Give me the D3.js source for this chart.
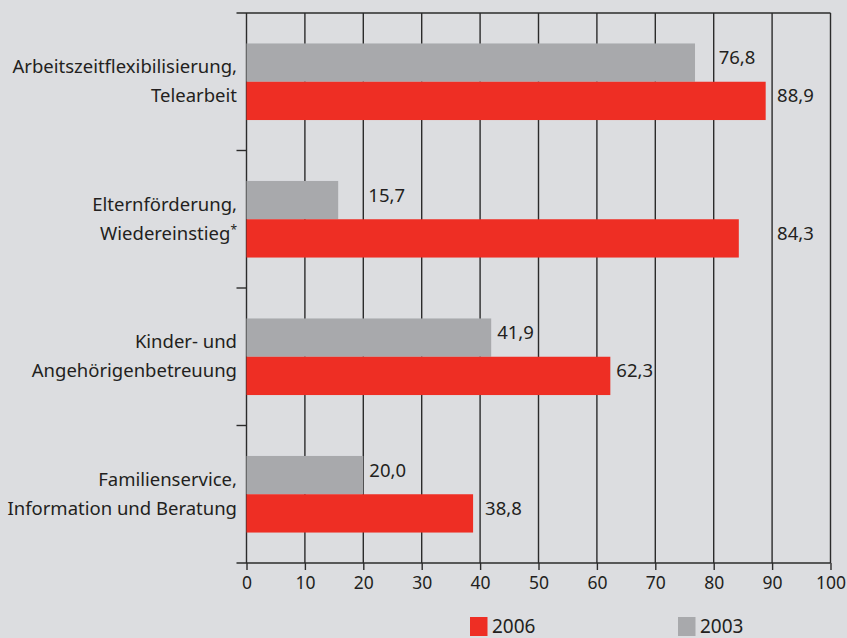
<!DOCTYPE html>
<html>
<head>
<meta charset="utf-8">
<script src="https://cdn.jsdelivr.net/npm/d3@7"></script>
<style>
  html, body { margin: 0; padding: 0; background: #dcdde0; }
  svg { display: block; }
  text { font-family: "Noto Sans", sans-serif; fill: #231f20; }
</style>
</head>
<body>
<svg id="chart" width="847" height="638"></svg>
<script>
// Categories (two-line labels) and the two survey years
const categories = [
  ["Arbeitszeitflexibilisierung,", "Telearbeit"],
  ["Elternförderung,", "Wiedereinstieg*"],
  ["Kinder- und", "Angehörigenbetreuung"],
  ["Familienservice,", "Information und Beratung"]
];
const values2003 = [76.8, 15.7, 41.9, 20.0];
const values2006 = [88.9, 84.3, 62.3, 38.8];
const xTicks = [0, 10, 20, 30, 40, 50, 60, 70, 80, 90, 100];
const seriesNames = ["2006", "2003"];

const RED = "#ee2e24", GRAY = "#a8a9ac", LINE = "#2b2b2b";
const svg = d3.select("#chart");

const de = d3.formatLocale({ decimal: ",", thousands: ".", grouping: [3], currency: ["", " €"] });
const fmt = de.format(".1f");

const plotL = 246.5, plotR = 830.5, plotT = 13, plotB = 563;
const x = d3.scaleLinear().domain([0, 100]).range([plotL, plotR]);
const y = d3.scaleBand().domain(d3.range(categories.length)).range([plotT, plotB])
  .paddingInner(0.443).paddingOuter(0.2215);
const barH = y.bandwidth() / 2;

// vertical grid lines
svg.append("g").selectAll("line").data(xTicks.slice(1)).join("line")
  .attr("x1", d => x(d)).attr("x2", d => x(d))
  .attr("y1", plotT).attr("y2", plotB)
  .attr("stroke", LINE).attr("stroke-width", 1.4);

// top frame line
svg.append("line").attr("x1", plotL - 10).attr("x2", plotR)
  .attr("y1", plotT).attr("y2", plotT).attr("stroke", LINE).attr("stroke-width", 1.4);

// bottom axis
const xAxis = svg.append("g").attr("transform", `translate(0,${plotB})`)
  .call(d3.axisBottom(x).tickValues(xTicks).tickSize(7).tickPadding(7).tickSizeOuter(0));
xAxis.select(".domain").remove();
xAxis.selectAll(".tick line").attr("stroke", LINE).attr("stroke-width", 1.4);
xAxis.selectAll(".tick text").style("font-size", "17.5px").attr("fill", "#231f20")
  .attr("font-family", "Noto Sans, sans-serif");
svg.append("line").attr("x1", plotL - 10).attr("x2", plotR)
  .attr("y1", plotB).attr("y2", plotB).attr("stroke", LINE).attr("stroke-width", 1.4);

// left axis with ticks between categories
svg.append("line").attr("x1", plotL).attr("x2", plotL).attr("y1", plotT).attr("y2", plotB)
  .attr("stroke", LINE).attr("stroke-width", 1.4);
const sep = d3.range(1, categories.length).map(i => y.step() * i + plotT);
svg.append("g").selectAll("line").data(sep).join("line")
  .attr("x1", plotL - 10).attr("x2", plotL).attr("y1", d => d).attr("y2", d => d)
  .attr("stroke", LINE).attr("stroke-width", 1.4);

// bars
const g = svg.append("g");
g.selectAll("rect.b03").data(values2003).join("rect").attr("class", "b03")
  .attr("x", x(0)).attr("y", (d, i) => y(i))
  .attr("width", d => x(d) - x(0)).attr("height", barH).attr("fill", GRAY);
g.selectAll("rect.b06").data(values2006).join("rect").attr("class", "b06")
  .attr("x", x(0)).attr("y", (d, i) => y(i) + barH)
  .attr("width", d => x(d) - x(0)).attr("height", barH).attr("fill", RED);

// value labels: placed after the bar end, shifted past a grid line if they would touch one
function labelX(v, w) {
  let s = x(v) + 6;
  for (const t of xTicks) {
    const gx = x(t);
    if (gx > s - 4 && gx < s + w) s = gx + 5;
  }
  return s;
}
function addLabels(vals, offset) {
  vals.forEach((v, i) => {
    const t = svg.append("text").text(fmt(v)).style("font-size", "18.5px")
      .attr("y", y(i) + offset + barH / 2 + 1.5);
    const w = t.node().getComputedTextLength();
    t.attr("x", labelX(v, w));
  });
}
addLabels(values2003, 0);
addLabels(values2006, barH);

// category labels
categories.forEach((lines, i) => {
  const cy = y(i) + y.bandwidth() / 2;
  lines.forEach((ln, j) => {
    const t = svg.append("text").attr("x", 237).attr("text-anchor", "end")
      .attr("y", cy + (j === 0 ? -8.5 : 20.5)).style("font-size", "18.5px");
    if (ln.endsWith("*")) {
      t.append("tspan").text(ln.slice(0, -1));
      t.append("tspan").text("*").style("font-size", "12px").attr("dy", -6);
    } else {
      t.text(ln);
    }
  });
});

// legend
const legend = [{ name: seriesNames[0], c: RED, x: 470 }, { name: seriesNames[1], c: GRAY, x: 678 }];
legend.forEach(l => {
  svg.append("rect").attr("x", l.x).attr("y", 617).attr("width", 17.5).attr("height", 19).attr("fill", l.c);
  svg.append("text").attr("x", l.x + 22).attr("y", 633).text(l.name).style("font-size", "19px");
});
</script>
</body>
</html>
